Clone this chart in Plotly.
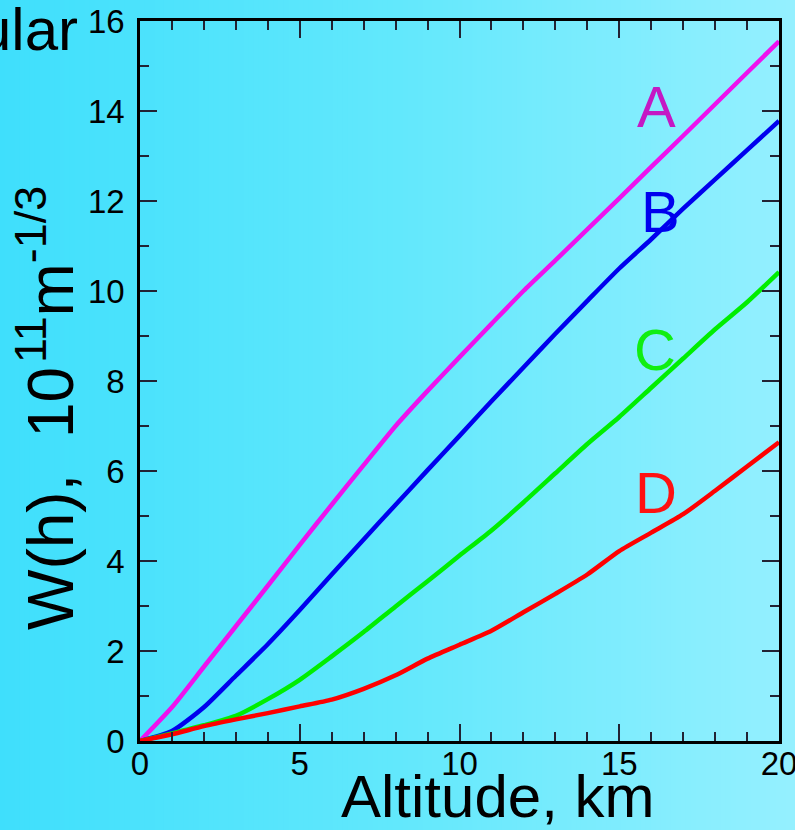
import plotly.graph_objects as go

altitude = list(range(0, 21))
w_a = [0, 0.75, 1.65, 2.55, 3.45, 4.36, 5.25, 6.13, 7.0, 7.78, 8.53, 9.27, 10.0, 10.68, 11.37, 12.06, 12.76, 13.45, 14.15, 14.85, 15.55]
w_b = [0, 0.22, 0.75, 1.45, 2.15, 2.91, 3.7, 4.48, 5.25, 6.02, 6.78, 7.55, 8.3, 9.05, 9.78, 10.5, 11.15, 11.83, 12.48, 13.13, 13.78]
w_c = [0, 0.17, 0.35, 0.56, 0.93, 1.36, 1.88, 2.42, 2.99, 3.55, 4.12, 4.68, 5.3, 5.95, 6.6, 7.2, 7.85, 8.5, 9.15, 9.75, 10.42]
w_d = [0, 0.15, 0.33, 0.48, 0.62, 0.77, 0.92, 1.16, 1.46, 1.83, 2.14, 2.45, 2.86, 3.27, 3.7, 4.22, 4.63, 5.04, 5.56, 6.1, 6.64]

series_names = ["A", "B", "C", "D"]
series_values = [w_a, w_b, w_c, w_d]
line_colors = ["#ee11ee", "#0000ee", "#00ee00", "#ff0000"]
label_colors = ["#c418c4", "#0000ee", "#11ee11", "#ff1111"]
label_x = [16.18, 16.28, 16.12, 16.15]
label_y = [14.09, 11.76, 8.69, 5.53]

x_ticks = [0, 5, 10, 15, 20]
y_ticks = [0, 2, 4, 6, 8, 10, 12, 14, 16]

FONT = "Liberation Sans, Arial, sans-serif"
W, H = 795, 830
L, R, T, B = 140, 16, 21, 89
pw, ph = W - L - R, H - T - B

fig = go.Figure()
for name, vals, col in zip(series_names, series_values, line_colors):
    fig.add_trace(go.Scatter(x=altitude, y=vals, mode="lines", name=name,
                             line=dict(color=col, width=4.5, shape="spline", smoothing=0.6),
                             showlegend=False))

# background gradient (strips in paper coords)
def lerp(c1, c2, t):
    return tuple(int(round(a + (b - a) * t)) for a, b in zip(c1, c2))

c_left, c_mid, c_right = (0x3f, 0xdf, 0xfc), (0x62, 0xe8, 0xfc), (0x95, 0xf0, 0xff)
shapes = []
n = 160
for i in range(n):
    px0 = W * i / n
    px1 = W * (i + 1) / n + 1
    t = (px0 + px1) / 2 / W
    if t < 0.5:
        c = lerp(c_left, c_mid, t / 0.5)
    else:
        c = lerp(c_mid, c_right, (t - 0.5) / 0.5)
    shapes.append(dict(type="rect", xref="paper", yref="paper",
                       x0=(px0 - L) / pw, x1=(px1 - L) / pw,
                       y0=-(B + 10) / ph, y1=(ph + T + 10) / ph,
                       fillcolor="rgb(%d,%d,%d)" % c, line=dict(width=0), layer="below"))

annotations = []
for name, col, lx, ly in zip(series_names, label_colors, label_x, label_y):
    annotations.append(dict(x=lx, y=ly, xref="x", yref="y", text=name, showarrow=False,
                            xanchor="center", yanchor="middle",
                            font=dict(family=FONT, size=58, color=col)))

annotations.append(dict(x=(497 - L) / pw, y=(T + ph - 796) / ph, xref="paper", yref="paper",
                        text="Altitude, km", showarrow=False, xanchor="center", yanchor="middle",
                        font=dict(family=FONT, size=60, color="black")))
annotations.append(dict(x=(46 - L) / pw, y=(T + ph - 408) / ph, xref="paper", yref="paper",
                        text="W(h),  10<span style='font-size:14px'> </span><sup>11</sup>m<sup>-1/3</sup>",
                        textangle=-90, showarrow=False,
                        xanchor="center", yanchor="middle",
                        font=dict(family=FONT, size=64, color="black")))
annotations.append(dict(x=(80 - L) / pw, y=(T + ph - 30) / ph, xref="paper", yref="paper",
                        text="ular", showarrow=False, xanchor="right", yanchor="middle",
                        font=dict(family=FONT, size=60, color="black")))

axis_common = dict(showgrid=False, zeroline=False, showline=True, linecolor="black", linewidth=2.5,
                   mirror="ticks", ticks="inside", ticklen=17, tickwidth=2, tickcolor="#223",
                   automargin=False, ticklabeloverflow="allow",
                   tickfont=dict(family=FONT, size=33, color="black"))

fig.update_layout(
    width=W, height=H,
    margin=dict(l=L, r=R, t=T, b=B),
    paper_bgcolor="rgb(63,223,252)",
    plot_bgcolor="rgba(0,0,0,0)",
    shapes=shapes,
    annotations=annotations,
    xaxis=dict(range=[0, 20], tickvals=x_ticks, ticktext=[str(v) for v in x_ticks],
               minor=dict(dtick=1, ticks="inside", ticklen=9, tickwidth=2, tickcolor="#223"),
               ticklabelstandoff=-8, **axis_common),
    yaxis=dict(range=[0, 16], tickvals=y_ticks, ticktext=[str(v) for v in y_ticks],
               minor=dict(dtick=1, ticks="inside", ticklen=9, tickwidth=2, tickcolor="#223"),
               ticklabelstandoff=6, **axis_common),
)

fig.write_html("out.html")
